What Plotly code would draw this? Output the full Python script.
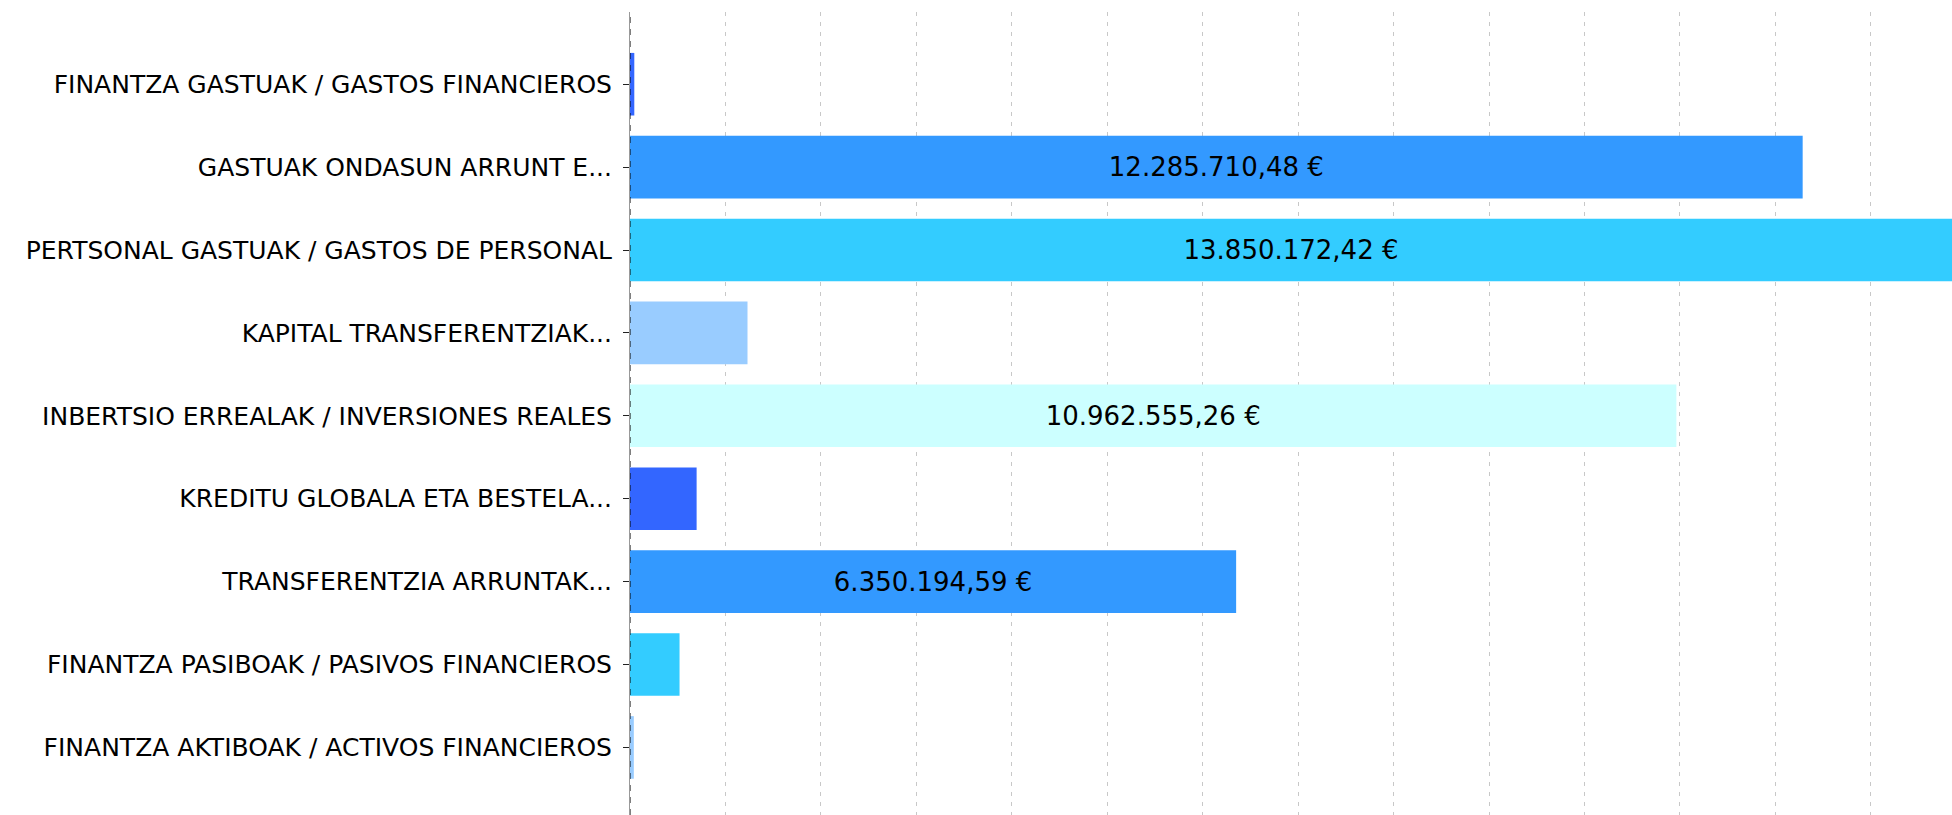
import plotly.graph_objects as go

categories = [
    "FINANTZA GASTUAK / GASTOS FINANCIEROS",
    "GASTUAK ONDASUN ARRUNT E...",
    "PERTSONAL GASTUAK / GASTOS DE PERSONAL",
    "KAPITAL TRANSFERENTZIAK...",
    "INBERTSIO ERREALAK / INVERSIONES REALES",
    "KREDITU GLOBALA ETA BESTELA...",
    "TRANSFERENTZIA ARRUNTAK...",
    "FINANTZA PASIBOAK / PASIVOS FINANCIEROS",
    "FINANTZA AKTIBOAK / ACTIVOS FINANCIEROS",
]
values = [
    45000.00,
    12285710.48,
    13850172.42,
    1231000.00,
    10962555.26,
    698000.00,
    6350194.59,
    519000.00,
    40000.00,
]
colors = [
    "#3366FF", "#3399FF", "#33CCFF", "#99CCFF", "#CCFFFF",
    "#3366FF", "#3399FF", "#33CCFF", "#99CCFF",
]


def fmt_eur(v):
    s = f"{v:,.2f}".replace(",", "X").replace(".", ",").replace("X", ".")
    return s + " €"


texts = [fmt_eur(v) for v in values]
FONT = "DejaVu Sans"

fig = go.Figure(
    go.Bar(
        x=values,
        y=categories,
        orientation="h",
        marker=dict(color=colors, line=dict(width=0)),
        text=texts,
        textposition="inside",
        insidetextanchor="middle",
        textfont=dict(family=FONT, size=26, color="#000000"),
        hoverinfo="skip",
    )
)

fig.update_layout(
    width=1952,
    height=815,
    margin=dict(l=630, r=0, t=12, b=0, pad=0),
    plot_bgcolor="white",
    paper_bgcolor="white",
    bargap=0.245,
    showlegend=False,
    uniformtext=dict(minsize=26, mode="hide"),
    font=dict(family=FONT, size=25, color="#000000"),
)

fig.update_xaxes(
    range=[0, max(values)],
    dtick=1000000,
    showticklabels=False,
    showgrid=True,
    gridcolor="#c8c8c8",
    gridwidth=1,
    griddash="4px,6px",
    zeroline=False,
    showline=False,
    ticks="",
)

fig.update_yaxes(
    range=[8.815, -0.871],
    showgrid=False,
    zeroline=False,
    showline=True,
    linecolor="#999999",
    linewidth=1,
    ticks="outside",
    ticklen=6,
    tickcolor="#222222",
    tickwidth=1,
    ticklabelstandoff=6,
    automargin=False,
    tickfont=dict(family=FONT, size=25, color="#000000"),
)

fig.add_shape(
    type="line",
    xref="x",
    yref="paper",
    x0=0,
    x1=0,
    y0=0,
    y1=1,
    line=dict(color="#000000", width=1, dash="6px,6px"),
    layer="above",
)

fig.write_html(
    "out.html",
    config={"displayModeBar": False},
    post_script="document.body.style.margin='0';document.body.style.overflow='hidden';",
)
